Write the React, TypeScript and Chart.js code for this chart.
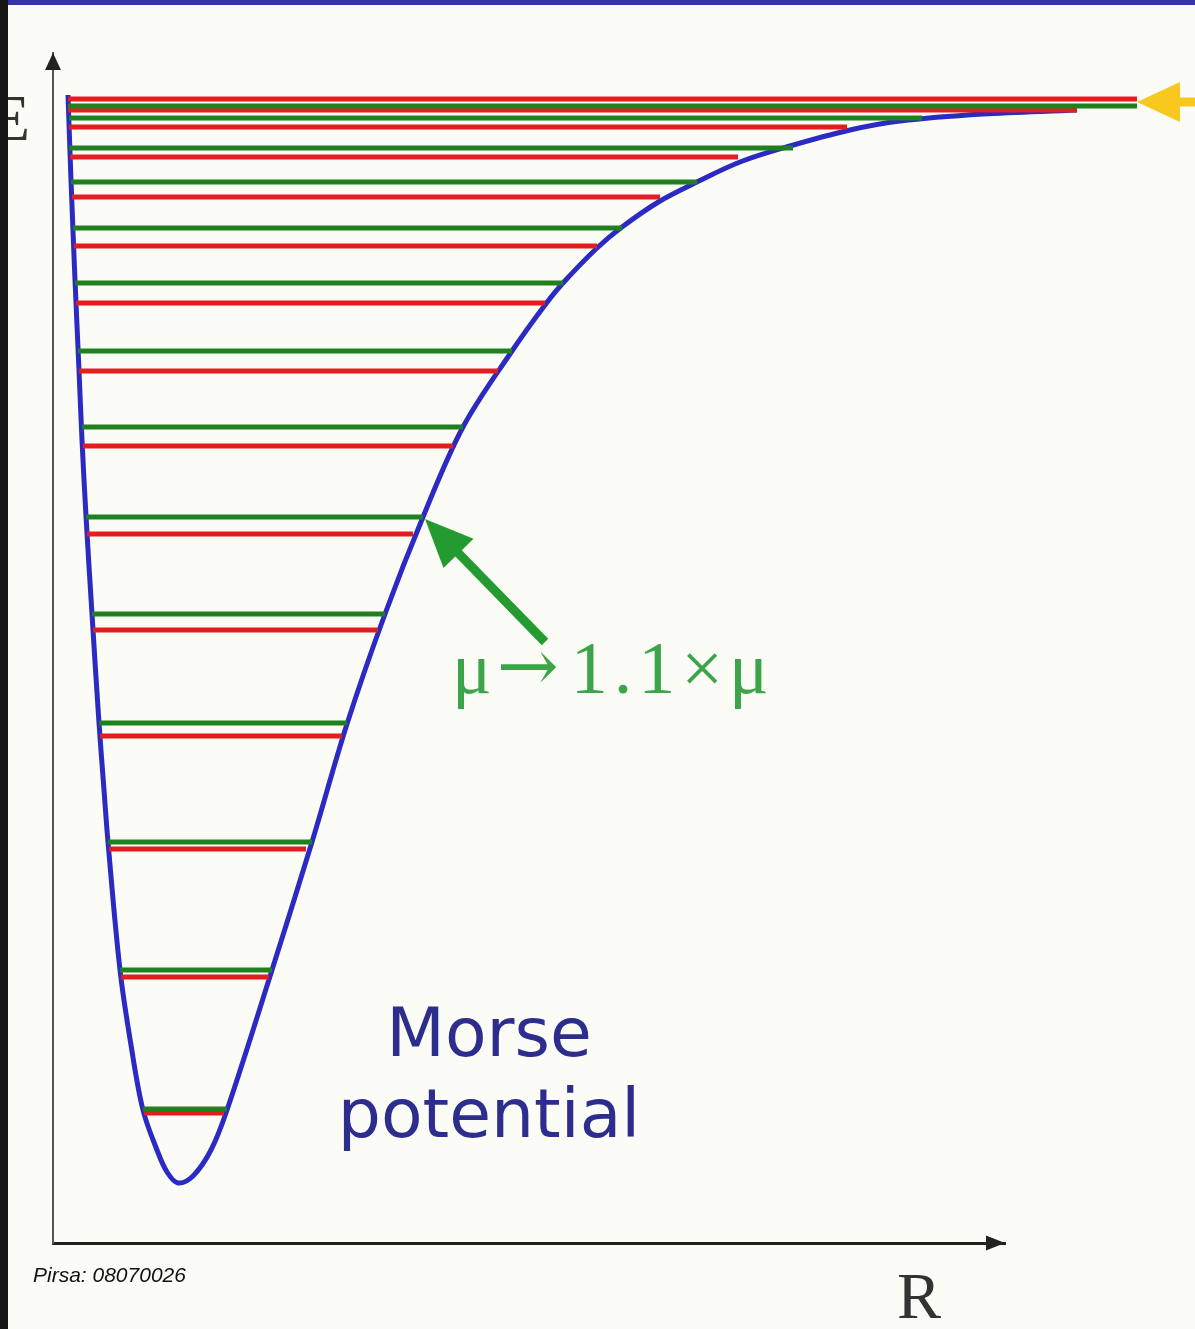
import React, { useEffect, useRef } from 'react';
import { Chart, registerables } from 'chart.js';

Chart.register(...registerables);

// Morse potential curve: internuclear distance R and energy E (plot units, axis origin at 0,0)
const curveR = [0.15, 0.18, 0.22, 0.26, 0.29, 0.33, 0.39, 0.46, 0.51, 0.55, 0.67, 0.78, 0.9, 1.04, 1.14, 1.25, 1.4, 1.58, 1.74, 2.19, 2.59, 2.94, 3.32, 3.7, 4.1, 4.59, 4.92, 5.1, 5.44, 5.69, 6.07, 6.44, 6.87, 7.37, 7.97, 8.47, 9.3, 10.24, 10.84];
const curveE = [11.48, 10.63, 9.63, 8.73, 8.03, 7.27, 6.29, 5.2, 4.53, 4.01, 2.73, 1.98, 1.33, 0.93, 0.71, 0.6, 0.67, 0.93, 1.33, 2.73, 4.01, 5.19, 6.29, 7.26, 8.16, 8.92, 9.38, 9.6, 9.95, 10.16, 10.42, 10.61, 10.81, 10.97, 11.13, 11.22, 11.29, 11.33, 11.36];

// Vibrational levels for the heavier reduced mass (mu -> 1.1 x mu): energy and classical turning points
const greenE = [11.37, 11.25, 10.95, 10.61, 10.15, 9.6, 8.92, 8.16, 7.26, 6.29, 5.2, 4.01, 2.73, 1.34];
const greenRLeft = [0.15, 0.16, 0.16, 0.18, 0.2, 0.22, 0.25, 0.29, 0.33, 0.39, 0.46, 0.55, 0.67, 0.9];
const greenRRight = [10.84, 8.69, 7.4, 6.44, 5.69, 5.1, 4.59, 4.1, 3.7, 3.32, 2.94, 2.59, 2.19, 1.74];

// Vibrational levels for the original reduced mass
const redE = [11.44, 11.33, 11.16, 10.86, 10.46, 9.97, 9.4, 8.72, 7.97, 7.09, 6.13, 5.07, 3.94, 2.66, 1.3];
const redRLeft = [0.15, 0.15, 0.16, 0.17, 0.19, 0.21, 0.23, 0.26, 0.3, 0.34, 0.4, 0.47, 0.56, 0.68, 0.91];
const redRRight = [10.84, 10.24, 7.94, 6.85, 6.07, 5.44, 4.92, 4.45, 4.0, 3.6, 3.25, 2.89, 2.53, 2.16, 1.71];

// Axis extents and annotation anchors (plot units)
const R_AXIS_MAX = 9.52;
const E_AXIS_MAX = 11.9;
const DISSOCIATION_E = 11.41;
const pointerFrom = [4.92, 6.01];
const pointerTo = [3.72, 7.24];
const massLabelAt = [3.99, 5.5];
const nameLabelAt = [4.36, 1.87, 1.06];

const W = 1195;
const H = 1329;
const BG = '#fcfcf6';

function levelPoints(E: number[], left: number[], right: number[]) {
  const pts: { x: number; y: number | null }[] = [];
  E.forEach((e, i) => {
    pts.push({ x: left[i], y: e }, { x: right[i], y: e }, { x: right[i], y: null });
  });
  return pts;
}

function arrow(ctx: CanvasRenderingContext2D, tx: number, ty: number, fx: number, fy: number, headLen: number, headHalf: number, shaft: number, color: string) {
  const ang = Math.atan2(ty - fy, tx - fx);
  const c = Math.cos(ang);
  const s = Math.sin(ang);
  const bx = tx - headLen * c;
  const by = ty - headLen * s;
  ctx.strokeStyle = color;
  ctx.fillStyle = color;
  ctx.lineWidth = shaft;
  ctx.lineCap = 'butt';
  ctx.beginPath();
  ctx.moveTo(fx, fy);
  ctx.lineTo(bx + 2 * c, by + 2 * s);
  ctx.stroke();
  ctx.beginPath();
  ctx.moveTo(tx, ty);
  ctx.lineTo(bx - headHalf * s, by + headHalf * c);
  ctx.lineTo(bx + headHalf * s, by - headHalf * c);
  ctx.closePath();
  ctx.fill();
}

const decorations = {
  id: 'decorations',
  beforeDraw(chart: any) {
    const { ctx, width, height } = chart;
    ctx.save();
    ctx.fillStyle = BG;
    ctx.fillRect(0, 0, width, height);
    ctx.restore();
  },
  afterDraw(chart: any) {
    const { ctx, chartArea, scales, width, height } = chart;
    const xs = scales.x;
    const ys = scales.y;
    const px = (r: number) => xs.getPixelForValue(r);
    const py = (e: number) => ys.getPixelForValue(e);
    ctx.save();

    // axis arrowheads
    ctx.fillStyle = '#222';
    const x0 = chartArea.left;
    const y0 = chartArea.bottom;
    ctx.beginPath();
    ctx.moveTo(chartArea.right, y0);
    ctx.lineTo(chartArea.right - 19, y0 - 7.5);
    ctx.lineTo(chartArea.right - 19, y0 + 7.5);
    ctx.closePath();
    ctx.fill();
    ctx.beginPath();
    ctx.moveTo(x0, chartArea.top);
    ctx.lineTo(x0 - 8, chartArea.top + 17);
    ctx.lineTo(x0 + 8, chartArea.top + 17);
    ctx.closePath();
    ctx.fill();

    // dissociation limit marker
    arrow(ctx, px(curveR[curveR.length - 1]), py(DISSOCIATION_E), width + 5, py(DISSOCIATION_E), 43, 20, 9, '#f8c81e');

    // pointer to a shifted level
    arrow(ctx, px(pointerTo[0]), py(pointerTo[1]), px(pointerFrom[0]), py(pointerFrom[1]), 48, 21, 9, '#249b30');

    // mass-scaling label, set piece by piece so the arrow keeps its long form
    ctx.textBaseline = 'alphabetic';
    ctx.textAlign = 'left';
    ctx.fillStyle = '#3ca54a';
    const serif = '74px "Liberation Serif", "DejaVu Serif", serif';
    let tx = px(massLabelAt[0]);
    const ty = py(massLabelAt[1]);
    ctx.font = serif;
    ctx.fillText('\u03bc', tx, ty);
    tx += ctx.measureText('\u03bc').width + 5;
    ctx.font = '74px "DejaVu Serif", serif';
    ctx.fillText('\u2192', tx, ty - 2);
    tx += ctx.measureText('\u2192').width + 12;
    ctx.font = serif;
    (ctx as any).letterSpacing = '6px';
    ctx.fillText('1.1\u00d7\u03bc', tx, ty);
    (ctx as any).letterSpacing = '0px';

    ctx.fillStyle = '#2d2d8e';
    ctx.font = '68px "DejaVu Sans", sans-serif';
    ctx.textAlign = 'center';
    ctx.fillText('Morse', px(nameLabelAt[0]), py(nameLabelAt[1]));
    ctx.fillText('potential', px(nameLabelAt[0]), py(nameLabelAt[2]));

    ctx.fillStyle = '#333';
    ctx.font = '66px "Liberation Serif", serif';
    ctx.textAlign = 'left';
    ctx.fillText('R', px(8.44), y0 + 75);
    ctx.textAlign = 'right';
    ctx.fillText('E', x0 - 23, py(11.03));

    ctx.fillStyle = '#111';
    ctx.font = 'italic 21px "Liberation Sans", Arial, sans-serif';
    ctx.textAlign = 'left';
    ctx.fillText('Pirsa: 08070026', 33, 1282);

    // slide frame
    ctx.fillStyle = '#161616';
    ctx.fillRect(0, 0, 8, height);
    ctx.fillStyle = '#3434a8';
    ctx.fillRect(8, 0, width - 8, 5);
    ctx.restore();
  },
};

export default function App() {
  const canvasRef = useRef<HTMLCanvasElement | null>(null);

  useEffect(() => {
    const canvas = canvasRef.current;
    if (!canvas) return;
    const chart = new Chart(canvas, {
      type: 'line',
      data: {
        datasets: [
          {
            label: 'levels (1.1 mu)',
            data: levelPoints(greenE, greenRLeft, greenRRight),
            borderColor: '#1f801f',
            borderWidth: 5,
            pointRadius: 0,
            tension: 0,
            spanGaps: false,
            clip: false,
          } as any,
          {
            label: 'levels (mu)',
            data: levelPoints(redE, redRLeft, redRRight),
            borderColor: '#e41e1e',
            borderWidth: 5,
            pointRadius: 0,
            tension: 0,
            spanGaps: false,
            clip: false,
          } as any,
          {
            label: 'Morse potential',
            data: curveR.map((r, i) => ({ x: r, y: curveE[i] })),
            borderColor: '#2b2bc4',
            borderWidth: 5,
            pointRadius: 0,
            tension: 0.35,
            clip: false,
          } as any,
        ],
      },
      options: {
        animation: false,
        responsive: false,
        devicePixelRatio: 1,
        events: [],
        layout: { padding: { left: 53, top: 53, right: W - 1005, bottom: H - 1243 } },
        plugins: { legend: { display: false }, tooltip: { enabled: false }, title: { display: false } },
        scales: {
          x: {
            type: 'linear',
            min: 0,
            max: R_AXIS_MAX,
            grid: { display: false, drawTicks: false },
            ticks: { display: false },
            border: { display: true, color: '#222', width: 3 },
          },
          y: {
            type: 'linear',
            min: 0,
            max: E_AXIS_MAX,
            grid: { display: false, drawTicks: false },
            ticks: { display: false },
            border: { display: true, color: '#555', width: 2 },
          },
        },
      },
      plugins: [decorations],
    });
    return () => chart.destroy();
  }, []);

  return (
    <div style={{ position: 'fixed', left: 0, top: 0, width: W, height: H, background: BG }}>
      <canvas ref={canvasRef} width={W} height={H} style={{ display: 'block' }} />
    </div>
  );
}
